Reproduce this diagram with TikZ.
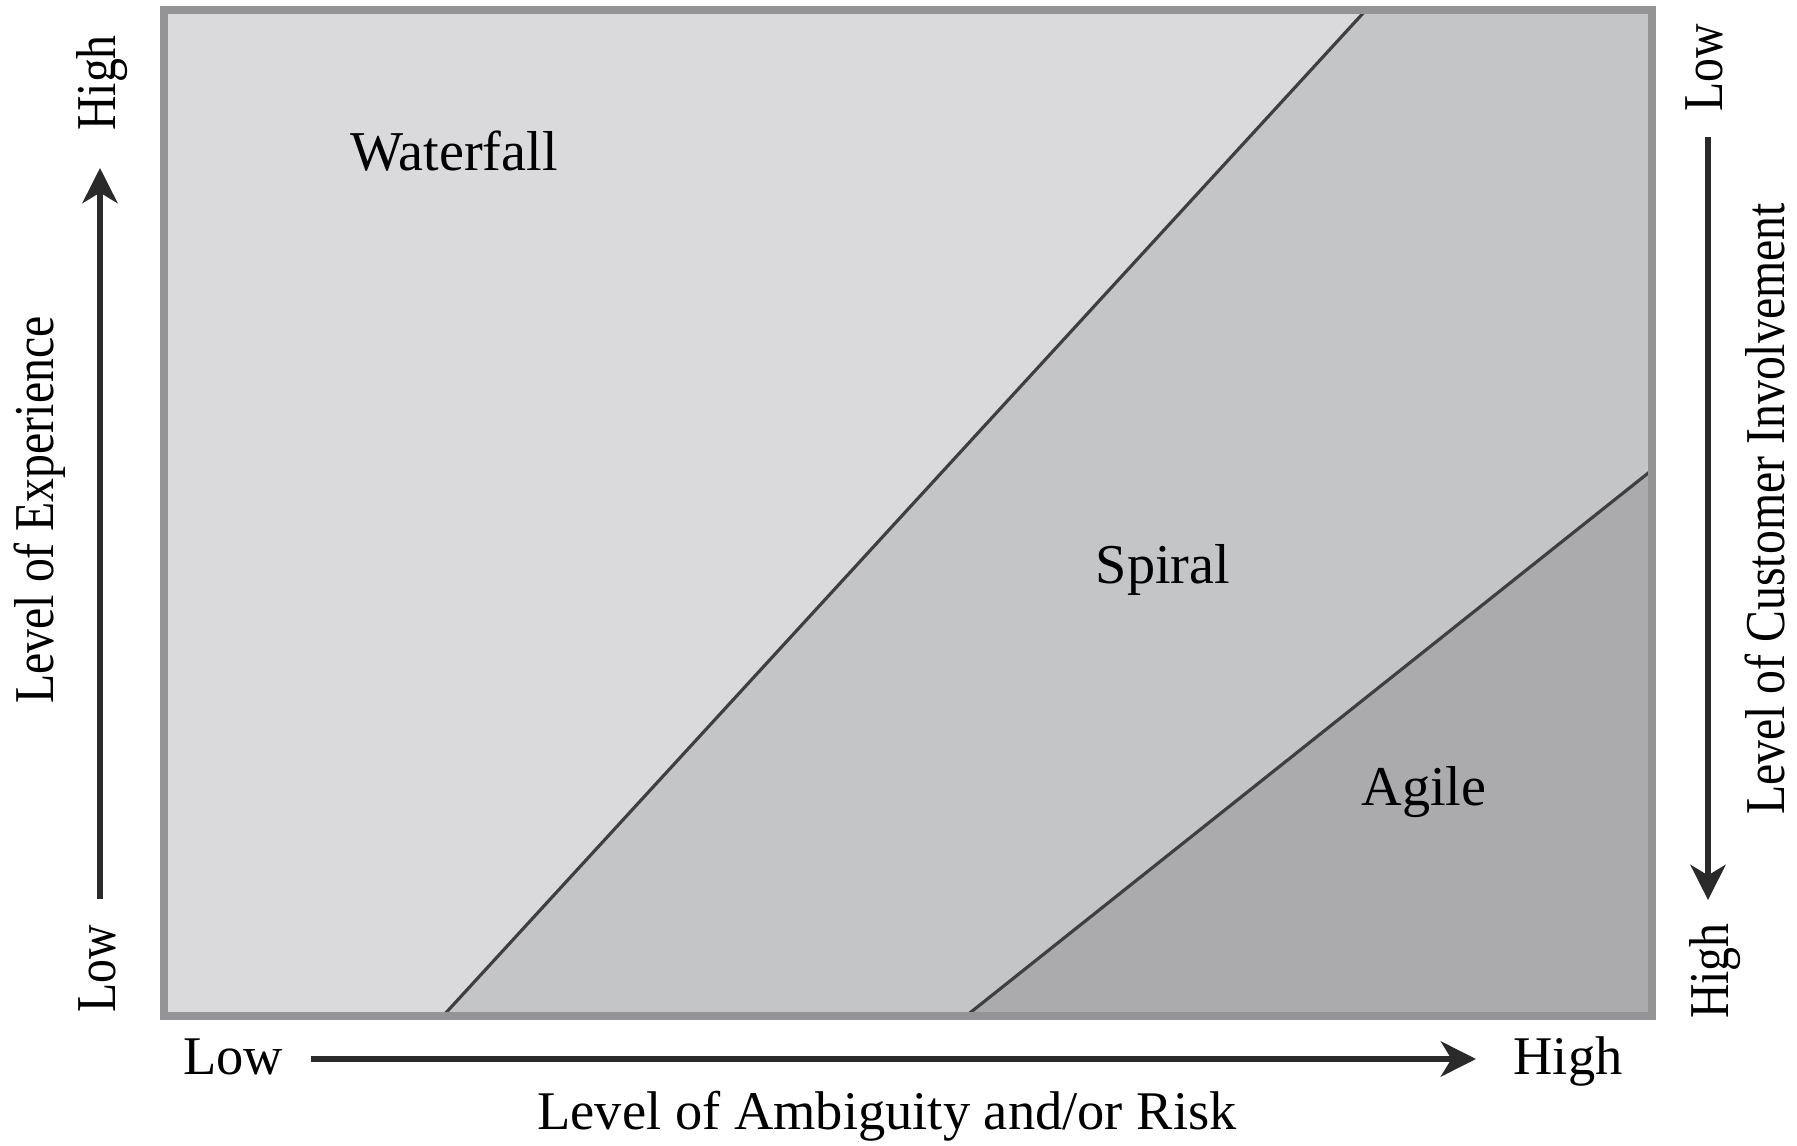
\documentclass[tikz,border=0pt]{standalone}
\usepackage{fontspec}
\setmainfont{Liberation Serif}
\newfontfamily\narrowserif[FakeStretch=0.85]{Liberation Serif}
\usetikzlibrary{arrows.meta}
\definecolor{wfgray}{HTML}{DADADC}
\definecolor{spgray}{HTML}{C4C5C7}
\definecolor{aggray}{HTML}{ABABAD}
\definecolor{framegray}{HTML}{949496}
\definecolor{inkgray}{HTML}{2A2A2A}

\begin{document}
\begin{tikzpicture}[x=0.1mm, y=-0.1mm,
        region/.style = {anchor=base, font=\fontsize{16}{19}\selectfont},
        axis/.style   = {anchor=base, font=\fontsize{15.5}{18}\selectfont},
        side/.style   = {anchor=base, rotate=90, font=\narrowserif\fontsize{16}{19}\selectfont},
        divide/.style = {draw=inkgray!90, line width=0.9pt},
        arrow/.style  = {draw=inkgray, line width=1.6pt, -{Stealth[length=10pt, width=10pt, inset=3pt]}}]
    \useasboundingbox (0,0) rectangle (1797,1146);
        % box corners and region borders
        \coordinate (tl) at (164,10);
        \coordinate (tr) at (1652,10);
        \coordinate (br) at (1652,1016);
        \coordinate (bl) at (164,1016);
        \coordinate (wb) at (443,1016);
        \coordinate (wt) at (1366,10);
        \coordinate (ab) at (966,1016);
        \coordinate (ar) at (1652,470);
        \fill[wfgray] (tl) -- (wt) -- (wb) -- (bl) -- cycle;
        \fill[spgray] (wt) -- (tr) -- (ar) -- (ab) -- (wb) -- cycle;
        \fill[aggray] (ab) -- (ar) -- (br) -- cycle;
        \draw[divide] (wb) -- (wt);
        \draw[divide] (ab) -- (ar);
        \draw[inkgray!80, line width=1.2pt] (ab) -- (br);
        \draw[framegray, line width=2.4pt] (tl) rectangle (br);
        \node[region] (wf) at (454,171) {Waterfall};
        \node[region] (sp) at (1163,584) {Spiral};
        \node[region] (ag) at (1424,806) {Agile};
        % bottom axis
        \node[axis] (xlow)  at (233,1074)  {Low};
        \node[axis] (xhigh) at (1568,1074) {High};
        \node[axis] (xname) at (887,1129)  {Level of Ambiguity and/or Risk};
        \coordinate (xs) at (311,1059);
        \coordinate (xe) at (1476,1059);
        \draw[arrow] (xs) -- (xe);
        % left axis
        \node[side] (elow)  at (115,969) {Low};
        \node[side] (ehigh) at (115,83)  {High};
        \node[side] (ename) at (53,510)  {Level of Experience};
        \coordinate (es) at (100,899);
        \coordinate (ee) at (100,168);
        \draw[arrow] (es) -- (ee);
        % right axis
        \node[side] (clow)  at (1722,68)  {Low};
        \node[side] (chigh) at (1728,971) {High};
        \node[side] (cname) at (1784,509) {Level of Customer Involvement};
        \coordinate (cs) at (1708,137);
        \coordinate (ce) at (1708,900);
        \draw[arrow] (cs) -- (ce);
    \end{tikzpicture}
\end{document}
